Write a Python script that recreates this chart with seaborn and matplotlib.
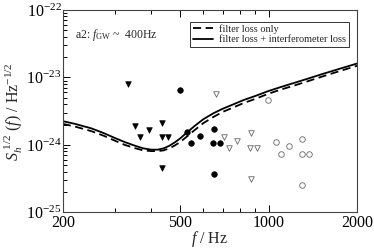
import numpy as np
import pandas as pd
import matplotlib
matplotlib.use("Agg")
import matplotlib.pyplot as plt
import seaborn as sns
from matplotlib.ticker import LogLocator, NullFormatter, FixedLocator

# noise curves
curve_f = [200, 220, 250, 275, 300, 325, 350, 375, 400, 420, 440, 460, 480,
           500, 530, 560, 600, 650, 700, 760, 820, 900, 1000, 1100, 1200,
           1350, 1500, 1700, 2000]
solid_S = [2.25e-24, 2.05e-24, 1.76e-24, 1.5e-24, 1.27e-24, 1.1e-24, 9.8e-25,
           8.9e-25, 8.5e-25, 8.5e-25, 8.9e-25, 9.7e-25, 1.09e-24, 1.24e-24,
           1.55e-24, 1.9e-24, 2.4e-24, 2.95e-24, 3.45e-24, 4.0e-24, 4.6e-24,
           5.3e-24, 6.3e-24, 7.2e-24, 8.1e-24, 9.5e-24, 1.1e-23, 1.3e-23,
           1.61e-23]
dashed_S = [2.05e-24, 1.87e-24, 1.6e-24, 1.37e-24, 1.16e-24, 1.0e-24, 9.0e-25,
            8.3e-25, 8.1e-25, 8.1e-25, 8.3e-25, 8.9e-25, 9.8e-25, 1.1e-24,
            1.35e-24, 1.65e-24, 2.1e-24, 2.6e-24, 3.1e-24, 3.6e-24, 4.15e-24,
            4.8e-24, 5.75e-24, 6.6e-24, 7.4e-24, 8.7e-24, 1.01e-23, 1.2e-23,
            1.49e-23]

# source points
tri_fill_f = [333, 353, 366, 391, 435, 434, 456, 435]
tri_fill_S = [8.0e-24, 1.9e-24, 1.32e-24, 1.66e-24, 2.13e-24, 1.32e-24, 1.32e-24, 4.5e-25]
circ_fill_f = [500, 530, 547, 587, 654, 650, 685, 654]
circ_fill_S = [6.6e-24, 1.57e-24, 1.05e-24, 1.35e-24, 1.74e-24, 1.05e-24, 1.05e-24, 3.7e-25]
tri_open_f = [664, 707, 733, 782, 870, 863, 912, 870]
tri_open_S = [5.6e-24, 1.32e-24, 9.0e-25, 1.15e-24, 1.48e-24, 9.0e-25, 9.0e-25, 3.15e-25]
circ_open_f = [994, 1062, 1101, 1172, 1304, 1295, 1370, 1304]
circ_open_S = [4.6e-24, 1.10e-24, 7.4e-25, 9.5e-25, 1.22e-24, 7.4e-25, 7.4e-25, 2.54e-25]

sns.set_style("ticks")
plt.rcParams['font.family'] = ['Liberation Serif', 'DejaVu Serif']
plt.rcParams['mathtext.fontset'] = 'custom'
plt.rcParams['mathtext.rm'] = 'Liberation Serif'
plt.rcParams['mathtext.it'] = 'Liberation Serif:italic'
plt.rcParams['mathtext.bf'] = 'Liberation Serif:bold'

fig = plt.figure(figsize=(3.74, 2.49), dpi=100)
ax = fig.add_axes([0.168, 0.147, 0.787, 0.813])

curves = pd.DataFrame({"f": curve_f, "dashed": dashed_S, "solid": solid_S})
sns.lineplot(data=curves, x="f", y="dashed", ax=ax, color="black", lw=1.3,
             linestyle=(0, (4.5, 2.5)), label="filter loss only")
sns.lineplot(data=curves, x="f", y="solid", ax=ax, color="black", lw=1.3,
             label="filter loss + interferometer loss")

sns.scatterplot(x=tri_fill_f, y=tri_fill_S, ax=ax, marker="v", s=16,
                color="black", edgecolor="black", linewidth=0.5)
sns.scatterplot(x=circ_fill_f, y=circ_fill_S, ax=ax, marker="o", s=16,
                color="black", edgecolor="black", linewidth=0.5)
sns.scatterplot(x=tri_open_f, y=tri_open_S, ax=ax, marker="v", s=16,
                facecolor="white", edgecolor="#666666", linewidth=0.6)
sns.scatterplot(x=circ_open_f, y=circ_open_S, ax=ax, marker="o", s=16,
                facecolor="white", edgecolor="#666666", linewidth=0.6)

ax.set_xscale("log")
ax.set_yscale("log")
ax.set_xlim(200, 2000)
ax.set_ylim(1e-25, 1e-22)

ax.xaxis.set_major_locator(FixedLocator([200, 500, 1000, 2000]))
ax.set_xticklabels(["200", "500", "1000", "2000"])
ax.xaxis.set_minor_locator(FixedLocator([300, 400, 600, 700, 800, 900]))
ax.xaxis.set_minor_formatter(NullFormatter())
ax.yaxis.set_major_locator(FixedLocator([1e-25, 1e-24, 1e-23, 1e-22]))
ax.set_yticklabels([r"10$^{-25}$", r"10$^{-24}$", r"10$^{-23}$", r"10$^{-22}$"])
ax.yaxis.set_minor_locator(LogLocator(base=10, subs=np.arange(2, 10), numticks=20))
ax.yaxis.set_minor_formatter(NullFormatter())

ax.tick_params(which="both", direction="in", top=True, right=False,
               labelsize=11.5, width=0.7, colors="black")
ax.tick_params(which="major", length=5)
ax.tick_params(which="minor", length=3)
ax.tick_params(axis="x", pad=2)
ax.tick_params(axis="y", pad=1)
for s in ax.spines.values():
    s.set_linewidth(0.8)
    s.set_color("#444444")

ax.set_xlabel(r"$f$ / Hz", fontsize=11.5, labelpad=-1.5)
ax.set_ylabel(r"$S_h^{\ 1/2}$ $(f)$ / Hz$^{-1/2}$", fontsize=11.5, labelpad=1)

ax.text(0.04, 0.875, r"a2: $f_{\rm GW}$ ~  400Hz", transform=ax.transAxes,
        fontsize=8.5, va="center")

leg = ax.legend(loc="upper right", bbox_to_anchor=(0.972, 0.942), fontsize=7.4,
                frameon=True, fancybox=False, edgecolor="black",
                handlelength=1.95, borderpad=0.25, labelspacing=0.12,
                handletextpad=0.65, borderaxespad=0)
leg.get_frame().set_linewidth(0.7)

fig.savefig("out.png", dpi=100)
